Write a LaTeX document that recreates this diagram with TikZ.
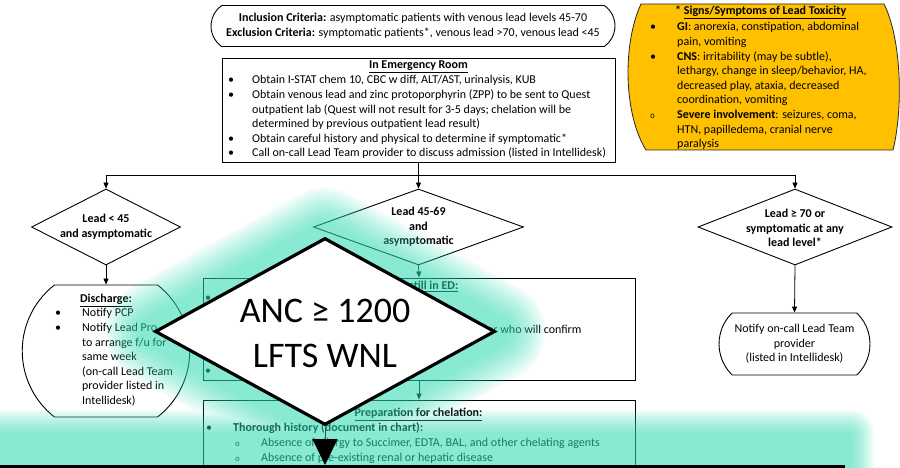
\documentclass[tikz,border=0pt]{standalone}
\usepackage{fontspec}
\setmainfont{Carlito}
\newfontfamily\monof{Liberation Mono}
\usetikzlibrary{shapes.geometric,shapes.misc,arrows.meta}

\definecolor{gold}{RGB}{255,192,0}
\definecolor{glowc}{RGB}{51,224,184}

% bullet helpers
\newcommand\blt{\makebox[24pt][l]{\textbullet}}
\newcommand\pad{\hspace*{24pt}}
\newcommand\obl{\makebox[26pt][l]{{\monof\fontsize{8}{8}\selectfont o}}}
\newcommand\bodyfont{\fontsize{12}{14.6}\selectfont}

\tikzset{
  box/.style={draw, line width=0.9pt, rectangle, inner sep=0pt},
  term/.style={draw, line width=0.9pt, rounded rectangle, inner sep=0pt, align=center, font=\bodyfont},
  dec/.style={draw, line width=0.9pt, diamond, inner sep=0pt},
  arr/.style={line width=0.8pt, -{Triangle[length=6pt,width=5pt]}},
  txt/.style={font=\bodyfont, inner sep=0pt, align=left, anchor=north west},
  line/.style={font=\bodyfont, inner sep=0pt, anchor=base west},
  head/.style={font=\bodyfont\bfseries, inner sep=0pt, anchor=base},
  dtxt/.style={font=\bodyfont\bfseries, inner sep=0pt, align=center},
}

\begin{document}
\begin{tikzpicture}[x=1pt,y=-1pt]
\useasboundingbox (0,0) rectangle (900,468);
\fill[white] (0,0) rectangle (900,468);

% ---------- flowchart ----------
\node[term, minimum width=404pt, minimum height=41pt, rounded rectangle arc length=110] (top) at (413,26)
  {\textbf{Inclusion Criteria:} asymptomatic patients with venous lead levels 45-70\\
   \textbf{Exclusion Criteria:} symptomatic patients*, venous lead >70, venous lead <45};

\node[box, minimum width=393pt, minimum height=104pt] (er) at (418.5,110) {};
\node[head] (ert) at (418.5,68.8) {\underline{In Emergency Room}};
\node[txt] (erl) at (228,73.4) {\strut\blt Obtain I-STAT chem 10, CBC w diff, ALT/AST, urinalysis, KUB\\
  \blt Obtain venous lead and zinc protoporphyrin (ZPP) to be sent to Quest\\
  \pad outpatient lab (Quest will not result for 3-5 days; chelation will be\\
  \pad determined by previous outpatient lead result)\\
  \blt Obtain careful history and physical to determine if symptomatic*\\
  \blt Call on-call Lead Team provider to discuss admission (listed in Intellidesk)};

% signs and symptoms panel
\filldraw[fill=gold, draw=black!85, line width=0.8pt]
  (641,4) -- (884,4) .. controls (902,40) and (903,110) .. (893,150)
  -- (646,150) .. controls (624,115) and (622,45) .. (641,4) -- cycle;
\node[line, font=\bodyfont\bfseries] (sgt) at (675,14.6) {* \underline{Signs/Symptoms of Lead Toxicity}};
\node[txt] (sgl) at (650,20.4) {\strut\makebox[27pt][l]{\textbullet}\textbf{GI}: anorexia, constipation, abdominal\\
  \hspace*{27pt}pain, vomiting\\
  \makebox[27pt][l]{\textbullet}\textbf{CNS}: irritability (may be subtle),\\
  \hspace*{27pt}lethargy, change in sleep/behavior, HA,\\
  \hspace*{27pt}decreased play, ataxia, decreased\\
  \hspace*{27pt}coordination, vomiting\\
  \makebox[27pt][l]{{\monof\fontsize{8}{8}\selectfont o}}\textbf{Severe involvement}: seizures, coma,\\
  \hspace*{27pt}HTN, papilledema, cranial nerve\\
  \hspace*{27pt}paralysis};

% decisions
\node[dec, minimum width=149pt, minimum height=76pt] (d1) at (106,227) {};
\node[dec, minimum width=210pt, minimum height=76pt] (d2) at (418.5,227) {};
\node[dec, minimum width=194pt, minimum height=76pt] (d3) at (795,227) {};
\node[dtxt] (d1t) at (d1) {Lead < 45\\and asymptomatic};
\node[dtxt] (d2t) at (d2) {Lead 45-69\\and\\asymptomatic};
\node[dtxt] (d3t) at (795,228) {Lead ≥ 70 or\\symptomatic at any\\lead level*};

\draw[arr] (er.south) -- (d2.north);
\draw[arr] (er.south) -- ++(0,13) -| (d1.north);
\draw[arr] (er.south) -- ++(0,13) -| (d3.north);

% outcomes
\node[draw, line width=0.9pt, rounded rectangle, rounded rectangle arc length=104,
      minimum width=164pt, minimum height=132pt, inner sep=0pt] (dc) at (106,351) {};
\node[head] (dct) at (106,302.6) {\underline{Discharge:}};
\node[txt] (dcl) at (55,306.4) {\strut\makebox[27pt][l]{\textbullet}Notify PCP\\
  \makebox[27pt][l]{\textbullet}Notify Lead Pro\\
  \hspace*{27pt}to arrange f/u for\\
  \hspace*{27pt}same week\\
  \hspace*{27pt}(on-call Lead Team\\
  \hspace*{27pt}provider listed in\\
  \hspace*{27pt}Intellidesk)};

\node[box, minimum width=432pt, minimum height=102pt] (b1) at (419,329) {};
\node[line, font=\bodyfont\bfseries] (b1t) at (409,289.8) {\underline{still in ED:}};
\node[line] (b1c) at (481,333.8) {der who will confirm};
\node[font=\bodyfont, inner sep=0pt] (b1p) at (208,299) {\textbullet};
\node[font=\bodyfont, inner sep=0pt] (b1q) at (208,372) {\textbullet};

\node[box, minimum width=432pt, minimum height=160pt] (b2) at (419,480) {};
\node[head] (b2t) at (418.5,416.8) {\underline{Preparation for chelation:}};
\node[line] (b2a) at (206,431.8) {\makebox[27pt][l]{\textbullet}\textbf{Thorough history (document in chart):}};
\node[line] (b2b) at (235,446.8) {\obl Absence of allergy to Succimer, EDTA, BAL, and other chelating agents};
\node[line] (b2c) at (235,461.8) {\obl Absence of pre-existing renal or hepatic disease};

\node[term, minimum width=151pt, minimum height=62pt, rounded rectangle arc length=92] (nt) at (794.5,344)
  {Notify on-call Lead Team\\provider\\(listed in Intellidesk)};

\draw[arr] (d1.south) -- (dc.north);
\draw[arr] (d2.south) -- (b1.north);
\draw[arr] (b1.south) -- (b2.north);
\draw[arr] (d3.south) -- (nt.north);

% ---------- soft teal glow ----------
\coordinate (gW) at (155,331.5);
\coordinate (gN) at (325,238);
\coordinate (gE) at (495,331.5);
\coordinate (gS) at (325,425);
\coordinate (bandNW) at (-60,434);
\coordinate (bandSE) at (850,540);
\foreach \k in {1,...,12} {
  \pgfmathsetmacro\lwa{2*(14+3*\k)}
  \pgfmathsetmacro\lwb{2*(2*\k)}
  \begin{scope}[transparency group, opacity=0.065]
    \draw[glowc, line width=\lwa pt, line join=round] (gW) -- (gN) -- (gE) -- (gS) -- cycle;
    \filldraw[glowc, line width=\lwb pt, line join=round] (bandNW) rectangle (bandSE);
  \end{scope}
}

% ---------- overlay decision ----------
\node[draw, diamond, fill=white, line width=3.2pt, minimum width=340pt, minimum height=187pt, inner sep=0pt] (anc) at (325,331.5) {};
\node[font=\fontsize{36}{45}\selectfont, align=center, inner sep=0pt] (anct) at (325,333) {ANC ≥ 1200\\LFTS WNL};

\coordinate (barL) at (-2,466.5);
\coordinate (barR) at (845,466.5);
\draw[line width=3.5pt] (barL) -- (barR);
\draw[line width=1pt, black!70, -{Triangle[length=26pt,width=25pt,color=black]}] (anc.south) -- (anc.south |- 0,465);

\end{tikzpicture}
\end{document}
